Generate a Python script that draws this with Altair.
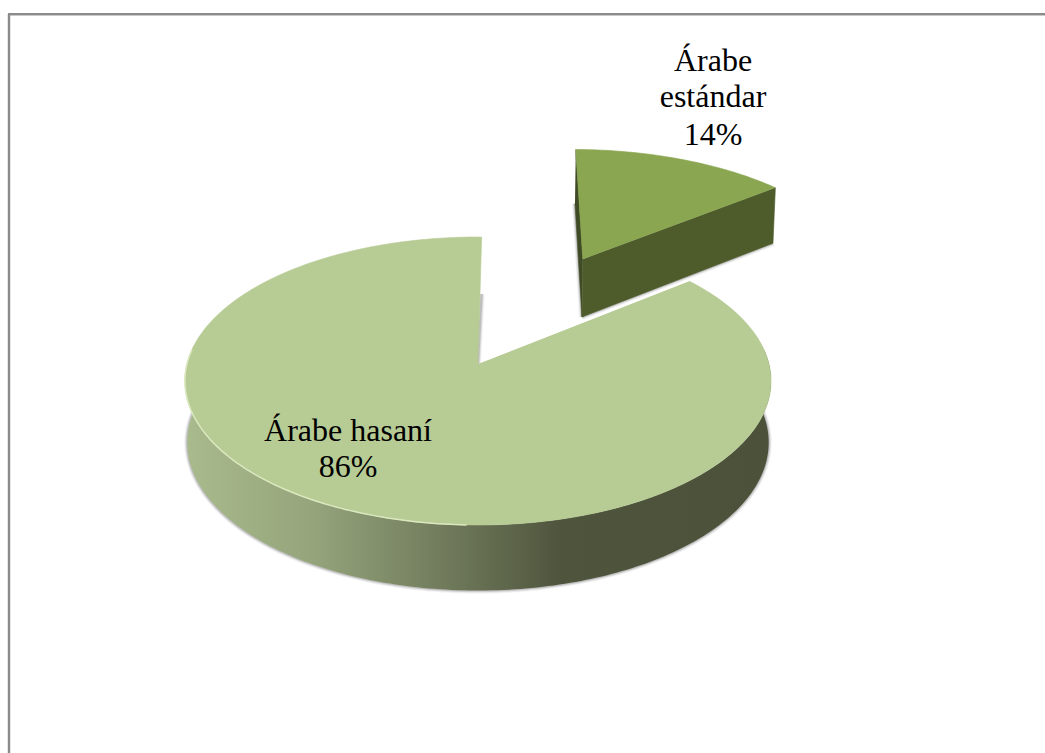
import math
import altair as alt
import pandas as pd

# Language shares, drawn clockwise from the top of the disc
labels = ["Árabe estándar", "Árabe hasaní"]
shares = [14, 86]
label_lines = [["Árabe", "estándar", "14%"], ["Árabe hasaní", "86%"]]

WIDTH, HEIGHT = 1045, 753

# Perspective view of the disc: centre, axis scales, foreshortening, depth and rotation
CX, CY, AX, AY = 478.0, 364.0, 291.0, 142.0
K = 0.118
WALL, WALL_K = 61.0 / AY, 0.069
START_DEG = 0.8
EXPLODE = 0.9
SMALL_RADIUS = 1.03


def project(x, y, drop=False):
    d = 1 + K * y
    px, py = x / d, y / d
    if drop:
        py -= WALL / (1 + WALL_K * y)
        px *= 0.992
    return px, py


def arc(start, end, ox=0.0, oy=0.0, drop=False, step=1.0, r=1.0):
    n = max(2, int(abs(end - start) / step))
    pts = []
    for i in range(n + 1):
        t = math.radians(start + (end - start) * i / n)
        pts.append(project(ox + r * math.sin(t), oy + r * math.cos(t), drop))
    return pts


def frame(points):
    return pd.DataFrame(
        {"x": [p[0] for p in points], "y": [p[1] for p in points], "i": range(len(points))}
    )


x_scale = alt.Scale(domain=[-CX / AX, (WIDTH - CX) / AX], range=[0, WIDTH], nice=False, zero=False)
y_scale = alt.Scale(domain=[(CY - HEIGHT) / AY, CY / AY], range=[HEIGHT, 0], nice=False, zero=False)


def path(points, **mark):
    return (
        alt.Chart(frame(points))
        .mark_line(interpolate="linear", **mark)
        .encode(
            x=alt.X("x:Q", scale=x_scale, axis=None),
            y=alt.Y("y:Q", scale=y_scale, axis=None),
            order=alt.Order("i:Q"),
        )
    )


def solid(points, colour):
    return path(points, fill=colour, stroke=colour, strokeWidth=0.6)


def soft_edge(points, colour="#777777"):
    return [path(points, stroke=colour, strokeWidth=w, opacity=o) for w, o in ((6, 0.10), (4, 0.16), (2.2, 0.30))]


# Slice angles derived from the shares
small_sweep = shares[0] / sum(shares) * 360
s0, s1 = START_DEG, START_DEG + small_sweep
mid = math.radians((s0 + s1) / 2)
ox, oy = EXPLODE * math.sin(mid), EXPLODE * math.cos(mid)

# Large slice outlines
big_top = arc(s1, s0 + 360) + [project(0, 0)]
big_front_top = arc(s1 + 33, 278)
big_front_bottom = arc(s1 + 33, 278, drop=True)
big_wall = big_front_top + big_front_bottom[::-1]

wall_fill = alt.Gradient(
    gradient="linear",
    x1=0, x2=1, y1=0, y2=0,
    stops=[
        alt.GradientStop(offset=0.0, color="#a9bb8d"),
        alt.GradientStop(offset=0.22, color="#95a47b"),
        alt.GradientStop(offset=0.42, color="#747f5f"),
        alt.GradientStop(offset=0.64, color="#4f553d"),
        alt.GradientStop(offset=1.0, color="#4c523a"),
    ],
)

# Small, pulled-out slice outlines
def small_rim(deg, drop=False):
    t = math.radians(deg)
    return project(ox + SMALL_RADIUS * math.sin(t), oy + SMALL_RADIUS * math.cos(t), drop)


small_apex = project(ox, oy)
small_apex_low = project(ox, oy, True)
small_top = [small_apex] + arc(s0, s1, ox, oy, r=SMALL_RADIUS)
small_cut = [small_apex, small_rim(s1), small_rim(s1, True), small_apex_low]
small_sliver = [small_rim(s0), small_apex, small_apex_low, small_rim(s0, True)]

big_start = project(math.sin(math.radians(s0)), math.cos(math.radians(s0)))
big_start_low = project(math.sin(math.radians(s0)), math.cos(math.radians(s0)), True)
big_apex = project(0, 0)

layers = []

# Frame: only the top and left edges are visible
layers.append(alt.Chart(pd.DataFrame({"a": [0]})).mark_rule(color="#8b8b8b", strokeWidth=2).encode(
    x=alt.value(8), x2=alt.value(WIDTH), y=alt.value(14)))
layers.append(alt.Chart(pd.DataFrame({"a": [0]})).mark_rule(color="#c8c8c8", strokeWidth=1).encode(
    x=alt.value(8), x2=alt.value(WIDTH), y=alt.value(15.5)))
layers.append(alt.Chart(pd.DataFrame({"a": [0]})).mark_rule(color="#8b8b8b", strokeWidth=2.4).encode(
    x=alt.value(9), y=alt.value(14), y2=alt.value(HEIGHT)))

# Soft contact shadows
layers += soft_edge(big_front_bottom)
layers += soft_edge([big_start_low, big_apex])
layers += soft_edge([small_apex_low, small_rim(s1, True)])
layers += soft_edge([small_rim(s0, True), small_apex_low])

# Large slice
layers.append(path(big_wall, fill=wall_fill, stroke="transparent"))
layers.append(solid(big_top, "#b7cb94"))
layers.append(path(arc(182, 276), stroke="#dbe8bf", strokeWidth=1.5))

# Small slice
layers.append(solid(small_sliver, "#3f4b24"))
layers.append(solid(small_cut, "#4e5c2c"))
layers.append(solid(small_top, "#8aa650"))

# Slice labels, one row per text line
label_rows = pd.DataFrame(
    {
        "text": label_lines[0] + label_lines[1],
        "px": [713, 713, 713, 348, 348],
        "py": [71, 107, 145, 441, 477],
    }
)
layers.append(
    alt.Chart(label_rows)
    .mark_text(font="Liberation Serif", fontSize=32, color="#000000", align="center", baseline="alphabetic")
    .encode(x=alt.X("px:Q", scale=None), y=alt.Y("py:Q", scale=None), text="text:N")
)

chart = (
    alt.layer(*layers)
    .resolve_scale(x="shared", y="shared")
    .properties(width=WIDTH, height=HEIGHT, padding=0, autosize=alt.AutoSizeParams(type="none"), background="white")
    .configure_view(stroke=None)
)

chart.save("out.html", embed_options={"renderer": "svg", "actions": False})
